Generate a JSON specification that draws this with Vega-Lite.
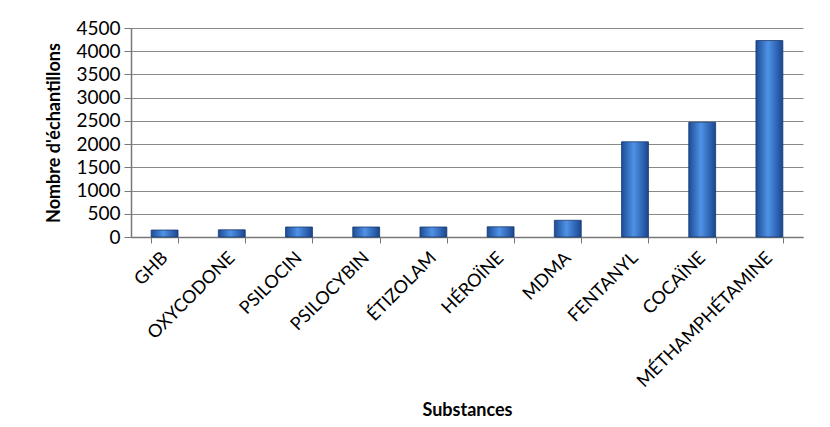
{
  "$schema": "https://vega.github.io/schema/vega-lite/v6.json",
  "width": 672,
  "height": 209,
  "autosize": "none",
  "padding": {"left": 131, "top": 28, "right": 27, "bottom": 190},
  "background": "white",
  "config": {
    "view": {"stroke": null},
    "font": "Lato"
  },
  "data": {
    "values": [
      {"substance": "GHB", "n": 150},
      {"substance": "OXYCODONE", "n": 155},
      {"substance": "PSILOCIN", "n": 215},
      {"substance": "PSILOCYBIN", "n": 215},
      {"substance": "ÉTIZOLAM", "n": 215},
      {"substance": "HÉROÏNE", "n": 220},
      {"substance": "MDMA", "n": 360},
      {"substance": "FENTANYL", "n": 2050},
      {"substance": "COCAÏNE", "n": 2470},
      {"substance": "MÉTHAMPHÉTAMINE", "n": 4230}
    ]
  },
  "mark": {
    "type": "bar",
    "color": {
      "gradient": "linear",
      "x1": 0, "x2": 1, "y1": 0, "y2": 0,
      "stops": [
        {"offset": 0, "color": "#1d4c96"},
        {"offset": 0.45, "color": "#4f92e6"},
        {"offset": 1, "color": "#1a4690"}
      ]
    },
    "stroke": "#17396e",
    "strokeWidth": 0.8
  },
  "encoding": {
    "x": {
      "field": "substance",
      "type": "nominal",
      "sort": null,
      "scale": {"paddingInner": 0.6, "paddingOuter": 0.3},
      "axis": {
        "title": "Substances",
        "titleFont": "Lato",
        "titleFontSize": 18,
        "titleFontWeight": "bold",
        "titleColor": "#000",
        "titleY": 164,
        "titleBaseline": "top",
        "labelAngle": -45,
        "labelAlign": "right",
        "labelBaseline": "middle",
        "labelFontSize": 18,
        "labelLimit": 0,
        "labelColor": "#000",
        "labelPadding": 12,
        "tickBand": "extent",
        "tickColor": "#777",
        "tickSize": 6,
        "domainColor": "#777",
        "domainWidth": 1.5,
        "grid": false
      }
    },
    "y": {
      "field": "n",
      "type": "quantitative",
      "scale": {"domain": [0, 4500], "nice": false},
      "axis": {
        "title": "Nombre d'échantillons",
        "titleFontSize": 18,
        "titleFontWeight": "bold",
        "titleColor": "#000",
        "titlePadding": 12,
        "format": "d",
        "values": [0, 500, 1000, 1500, 2000, 2500, 3000, 3500, 4000, 4500],
        "labelFontSize": 19,
        "labelColor": "#000",
        "labelPadding": 4,
        "tickSize": 7,
        "tickColor": "#777",
        "domainColor": "#777",
        "domainWidth": 1.5,
        "gridColor": "#8a8a8a",
        "gridWidth": 1.2
      }
    }
  }
}
